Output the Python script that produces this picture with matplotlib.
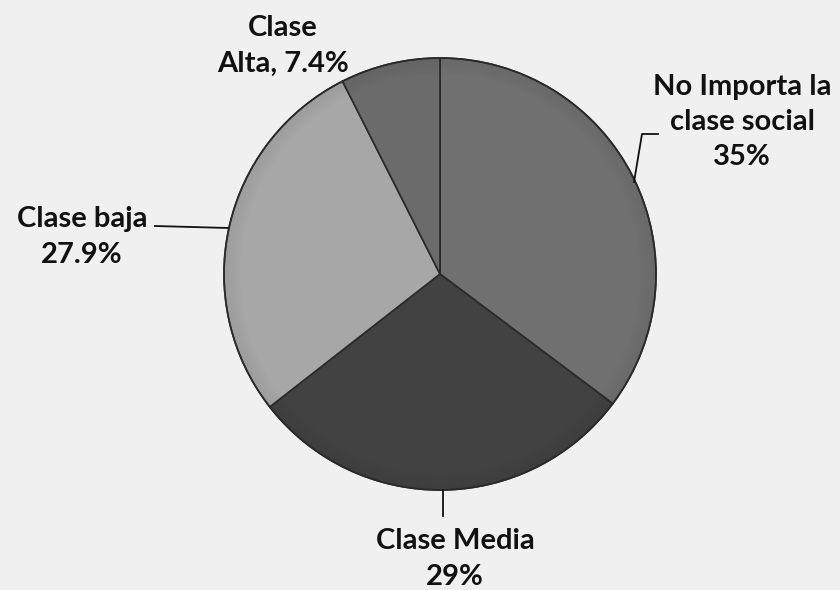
import matplotlib.pyplot as plt
from matplotlib.patches import Wedge

labels = ['No Importa la\nclase social\n35%', 'Clase Media\n29%', 'Clase baja\n27.9%', 'Clase\nAlta, 7.4%']
values = [35, 29, 27.9, 7.4]
colors = ['#707070', '#424242', '#a7a7a7', '#6b6b6b']

W, H = 840, 590
fig = plt.figure(figsize=(8.4, 5.9), dpi=100)
fig.patch.set_facecolor('#f0f0f0')
ax = fig.add_axes([0, 0, 1, 1])

cx, cy, r = 440, H - 274, 216
wedges, _ = ax.pie(values, colors=colors, startangle=90, counterclock=False,
                   center=(cx, cy), radius=r, frame=True,
                   wedgeprops=dict(edgecolor='#2a2a2a', linewidth=1.2))

# soft darker rim to mimic the bevel
for k in range(8):
    ax.add_patch(Wedge((cx, cy), r - k * 2, 0, 360, width=2,
                       facecolor='black', alpha=0.06 * (8 - k) / 8, lw=0))
ax.add_patch(Wedge((cx, cy), r, 0, 360, width=r, facecolor='none',
                   edgecolor='#2a2a2a', lw=1.2))

ax.set_xlim(0, W)
ax.set_ylim(0, H)
ax.set_aspect('equal')
ax.axis('off')

font = dict(family='Lato', fontweight='bold', fontsize=21, color='#111111',
            ha='center', va='center', linespacing=1.45)
ax.text(742, H - 122, labels[0], **font)
ax.text(455, H - 559, labels[1], **font)
ax.text(82, H - 237, labels[2], **font)
ax.text(283, H - 46, labels[3], **font)

# leader lines
lc = dict(color='#111111', linewidth=1.3)
ax.plot([658, 642, 634], [H - 134, H - 134, H - 182], **lc)
ax.plot([155, 228], [H - 226, H - 228], **lc)
ax.plot([443, 443], [H - 490, H - 516], **lc)

fig.savefig('out.png', dpi=100, facecolor=fig.get_facecolor())
